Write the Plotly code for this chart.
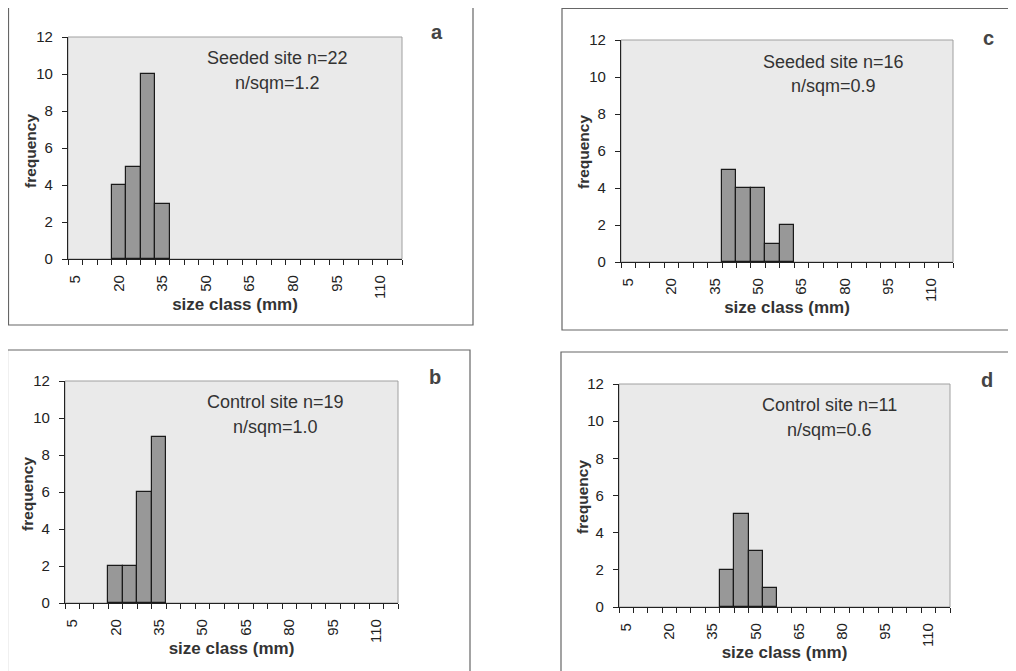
import plotly.graph_objects as go

# ---- data ----
size_classes = [5, 10, 15, 20, 25, 30, 35, 40, 45, 50, 55, 60, 65, 70, 75, 80,
                85, 90, 95, 100, 105, 110, 115]
freq_a = [0, 0, 0, 4, 5, 10, 3, 0, 0, 0, 0, 0, 0, 0, 0, 0, 0, 0, 0, 0, 0, 0, 0]
freq_b = [0, 0, 0, 2, 2, 6, 9, 0, 0, 0, 0, 0, 0, 0, 0, 0, 0, 0, 0, 0, 0, 0, 0]
freq_c = [0, 0, 0, 0, 0, 0, 0, 5, 4, 4, 1, 2, 0, 0, 0, 0, 0, 0, 0, 0, 0, 0, 0]
freq_d = [0, 0, 0, 0, 0, 0, 0, 2, 5, 3, 1, 0, 0, 0, 0, 0, 0, 0, 0, 0, 0, 0, 0]
tick_values = [5, 20, 35, 50, 65, 80, 95, 110]
tick_labels = ["5", "20", "35", "50", "65", "80", "95", "110"]
site_text = ["Seeded site n=22", "Control site n=19", "Seeded site n=16", "Control site n=11"]
density_text = ["n/sqm=1.2", "n/sqm=1.0", "n/sqm=0.9", "n/sqm=0.6"]
panel_letters = ["a", "b", "c", "d"]
x_title = "size class (mm)"
y_title = "frequency"
series = [freq_a, freq_b, freq_c, freq_d]

# ---- layout (pixel geometry in page coordinates; page body has an 8px margin) ----
OFF = 8
W, H = 1016 - OFF, 671 - OFF
FONT = "Arial, Liberation Sans, sans-serif"
plot_px = [(68, 402, 37, 259), (65, 398, 381, 603), (621, 953, 40, 262), (619, 950, 384, 607)]
box_px = [(8.5, 473, 7.5, 325), (7.5, 470, 350, 680), (562, 1030, 8.5, 330), (561, 1030, 352, 680)]
letter_px = [(437, 32), (435, 377), (988, 38), (987, 380)]
note_px = [(277, 58, 83), (275, 402, 427), (833, 62, 86), (829, 405, 430)]
ytitle_px = [(30, 151), (28, 494), (583, 152), (582, 497)]


def px(x):
    return (x - OFF) / W


def py(y):
    return 1 - (y - OFF) / H


fig = go.Figure()
layout = dict(
    width=W, height=H, margin=dict(l=0, r=0, t=0, b=0, pad=0, autoexpand=False),
    paper_bgcolor="#ffffff", plot_bgcolor="#eaeaea",
    showlegend=False, bargap=0, font=dict(family=FONT, color="#222"),
    shapes=[], annotations=[],
)

for i, vals in enumerate(series):
    n = "" if i == 0 else str(i + 1)
    xs = [s for s, v in zip(size_classes, vals) if v > 0]
    ys = [v for v in vals if v > 0]
    fig.add_trace(go.Bar(
        x=xs, y=ys, width=5, xaxis="x" + n, yaxis="y" + n,
        marker=dict(color="#989898", line=dict(color="#1a1a1a", width=1.2)),
    ))
    x0, x1, y0, y1 = plot_px[i]
    layout["xaxis" + n] = dict(
        domain=[px(x0), px(x1)], anchor="y" + n, range=[2.5, 117.5], automargin=False,
        tickmode="array", tickvals=tick_values, ticktext=tick_labels,
        tickangle=-90, ticks="", ticklabelstandoff=9,
        tickfont=dict(size=15, color="#222"),
        minor=dict(ticks="outside", ticklen=5, tick0=2.5, dtick=5, tickcolor="#222", showgrid=False),
        showline=True, linecolor="#222", linewidth=1.2, showgrid=False, zeroline=False,
        title=dict(text="<b>" + x_title + "</b>", font=dict(size=17, color="#333"), standoff=0),
        fixedrange=True,
    )
    layout["yaxis" + n] = dict(
        domain=[py(y1), py(y0)], anchor="x" + n, range=[0, 12], automargin=False,
        tickmode="linear", tick0=0, dtick=2, ticks="outside", ticklen=5,
        tickcolor="#222", tickfont=dict(size=15, color="#222"), ticklabelstandoff=6,
        showline=True, linecolor="#222", linewidth=1.2, showgrid=False, zeroline=False,
        fixedrange=True,
    )
    xr = "x" + n + " domain"
    yr = "y" + n + " domain"
    layout["shapes"].append(dict(type="rect", xref=xr, yref=yr, x0=0, x1=1, y0=0, y1=1,
                                 line=dict(color="#a0a0a0", width=1), layer="below"))
    bx0, bx1, by0, by1 = box_px[i]
    layout["shapes"].append(dict(type="rect", xref="paper", yref="paper",
                                 x0=px(bx0), x1=px(bx1), y0=py(by1), y1=py(by0),
                                 line=dict(color="#666", width=1.2)))
    tx, ty = ytitle_px[i]
    layout["annotations"].append(dict(text="<b>" + y_title + "</b>", xref="paper", yref="paper",
                                      x=px(tx), y=py(ty), xanchor="center", yanchor="middle",
                                      textangle=-90, showarrow=False,
                                      font=dict(size=15.5, color="#333")))
    lx, ly = letter_px[i]
    layout["annotations"].append(dict(text="<b>" + panel_letters[i] + "</b>", xref="paper", yref="paper",
                                      x=px(lx), y=py(ly), xanchor="center", yanchor="middle",
                                      showarrow=False, font=dict(size=20, color="#444")))
    nx, ny1, ny2 = note_px[i]
    layout["annotations"].append(dict(text=site_text[i], xref="paper", yref="paper",
                                      x=px(nx), y=py(ny1), xanchor="center", yanchor="middle",
                                      showarrow=False, font=dict(size=18, color="#333")))
    layout["annotations"].append(dict(text=density_text[i], xref="paper", yref="paper",
                                      x=px(nx), y=py(ny2), xanchor="center", yanchor="middle",
                                      showarrow=False, font=dict(size=18, color="#333")))

fig.update_layout(**layout)
fig.write_html("out.html")
